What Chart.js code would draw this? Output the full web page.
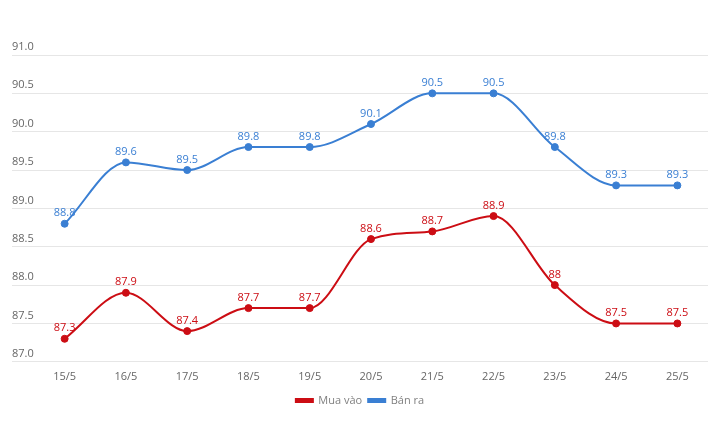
<!DOCTYPE html>
<html>
<head>
<meta charset="utf-8">
<script src="https://cdn.jsdelivr.net/npm/chart.js@4/dist/chart.umd.min.js"></script>
<style>
  html, body { margin: 0; padding: 0; background: #fff; }
  #wrap { width: 720px; height: 443px; }
</style>
</head>
<body>
<div id="wrap"><canvas id="goldChart" width="720" height="443"></canvas></div>
<script>
  // dates on the x axis
  const days = ['15/5', '16/5', '17/5', '18/5', '19/5', '20/5', '21/5', '22/5', '23/5', '24/5', '25/5'];
  // buying price (Mua vào)
  const buyPrices = [87.3, 87.9, 87.4, 87.7, 87.7, 88.6, 88.7, 88.9, 88, 87.5, 87.5];
  // selling price (Bán ra)
  const sellPrices = [88.8, 89.6, 89.5, 89.8, 89.8, 90.1, 90.5, 90.5, 89.8, 89.3, 89.3];

  const RED = '#cc0d14';
  const BLUE = '#3a7fd3';

  // small plugin to write the value above each point
  const valueLabels = {
    id: 'valueLabels',
    afterDatasetsDraw(chart) {
      const ctx = chart.ctx;
      ctx.save();
      ctx.font = '11px "Open Sans", sans-serif';
      ctx.textAlign = 'center';
      ctx.textBaseline = 'bottom';
      chart.data.datasets.forEach((ds, i) => {
        const meta = chart.getDatasetMeta(i);
        ctx.fillStyle = ds.borderColor;
        meta.data.forEach((pt, j) => {
          ctx.fillText(String(ds.data[j]), pt.x, pt.y - 5);
        });
      });
      ctx.restore();
    }
  };

  new Chart(document.getElementById('goldChart').getContext('2d'), {
    type: 'line',
    data: {
      labels: days,
      datasets: [{
        label: 'Mua vào',
        data: buyPrices,
        borderColor: RED,
        backgroundColor: RED,
        borderWidth: 2,
        pointRadius: 3.5,
        pointBorderWidth: 1,
        pointHoverRadius: 3.5,
        cubicInterpolationMode: 'monotone',
        fill: false
      }, {
        label: 'Bán ra',
        data: sellPrices,
        borderColor: BLUE,
        backgroundColor: BLUE,
        borderWidth: 2,
        pointRadius: 3.5,
        pointBorderWidth: 1,
        pointHoverRadius: 3.5,
        cubicInterpolationMode: 'monotone',
        fill: false
      }]
    },
    options: {
      responsive: false,
      animation: false,
      layout: { padding: { left: 12, right: 12, top: 55, bottom: 27 } },
      scales: {
        x: {
          offset: true,
          afterFit(axis) { axis.height += 6; },
          grid: { display: false },
          border: { display: false },
          ticks: { color: '#666', font: { size: 11, family: '"Open Sans", sans-serif' }, padding: 0 }
        },
        y: {
          min: 87,
          max: 91,
          afterFit(axis) { axis.width = 22; },
          grid: { color: '#e6e6e6', tickLength: 22, drawTicks: true },
          border: { display: false },
          ticks: {
            stepSize: 0.5,
            crossAlign: 'far',
            padding: 0,
            labelOffset: -8,
            color: '#666',
            font: { size: 11, family: '"Open Sans", sans-serif' },
            callback: v => Number(v).toFixed(1)
          }
        }
      },
      plugins: {
        legend: {
          position: 'bottom',
          labels: {
            boxWidth: 17,
            boxHeight: 3,
            color: '#808080',
            padding: 6,
            font: { size: 11, family: '"Open Sans", sans-serif' }
          }
        },
        tooltip: { enabled: false }
      }
    },
    plugins: [valueLabels]
  });
</script>
</body>
</html>
